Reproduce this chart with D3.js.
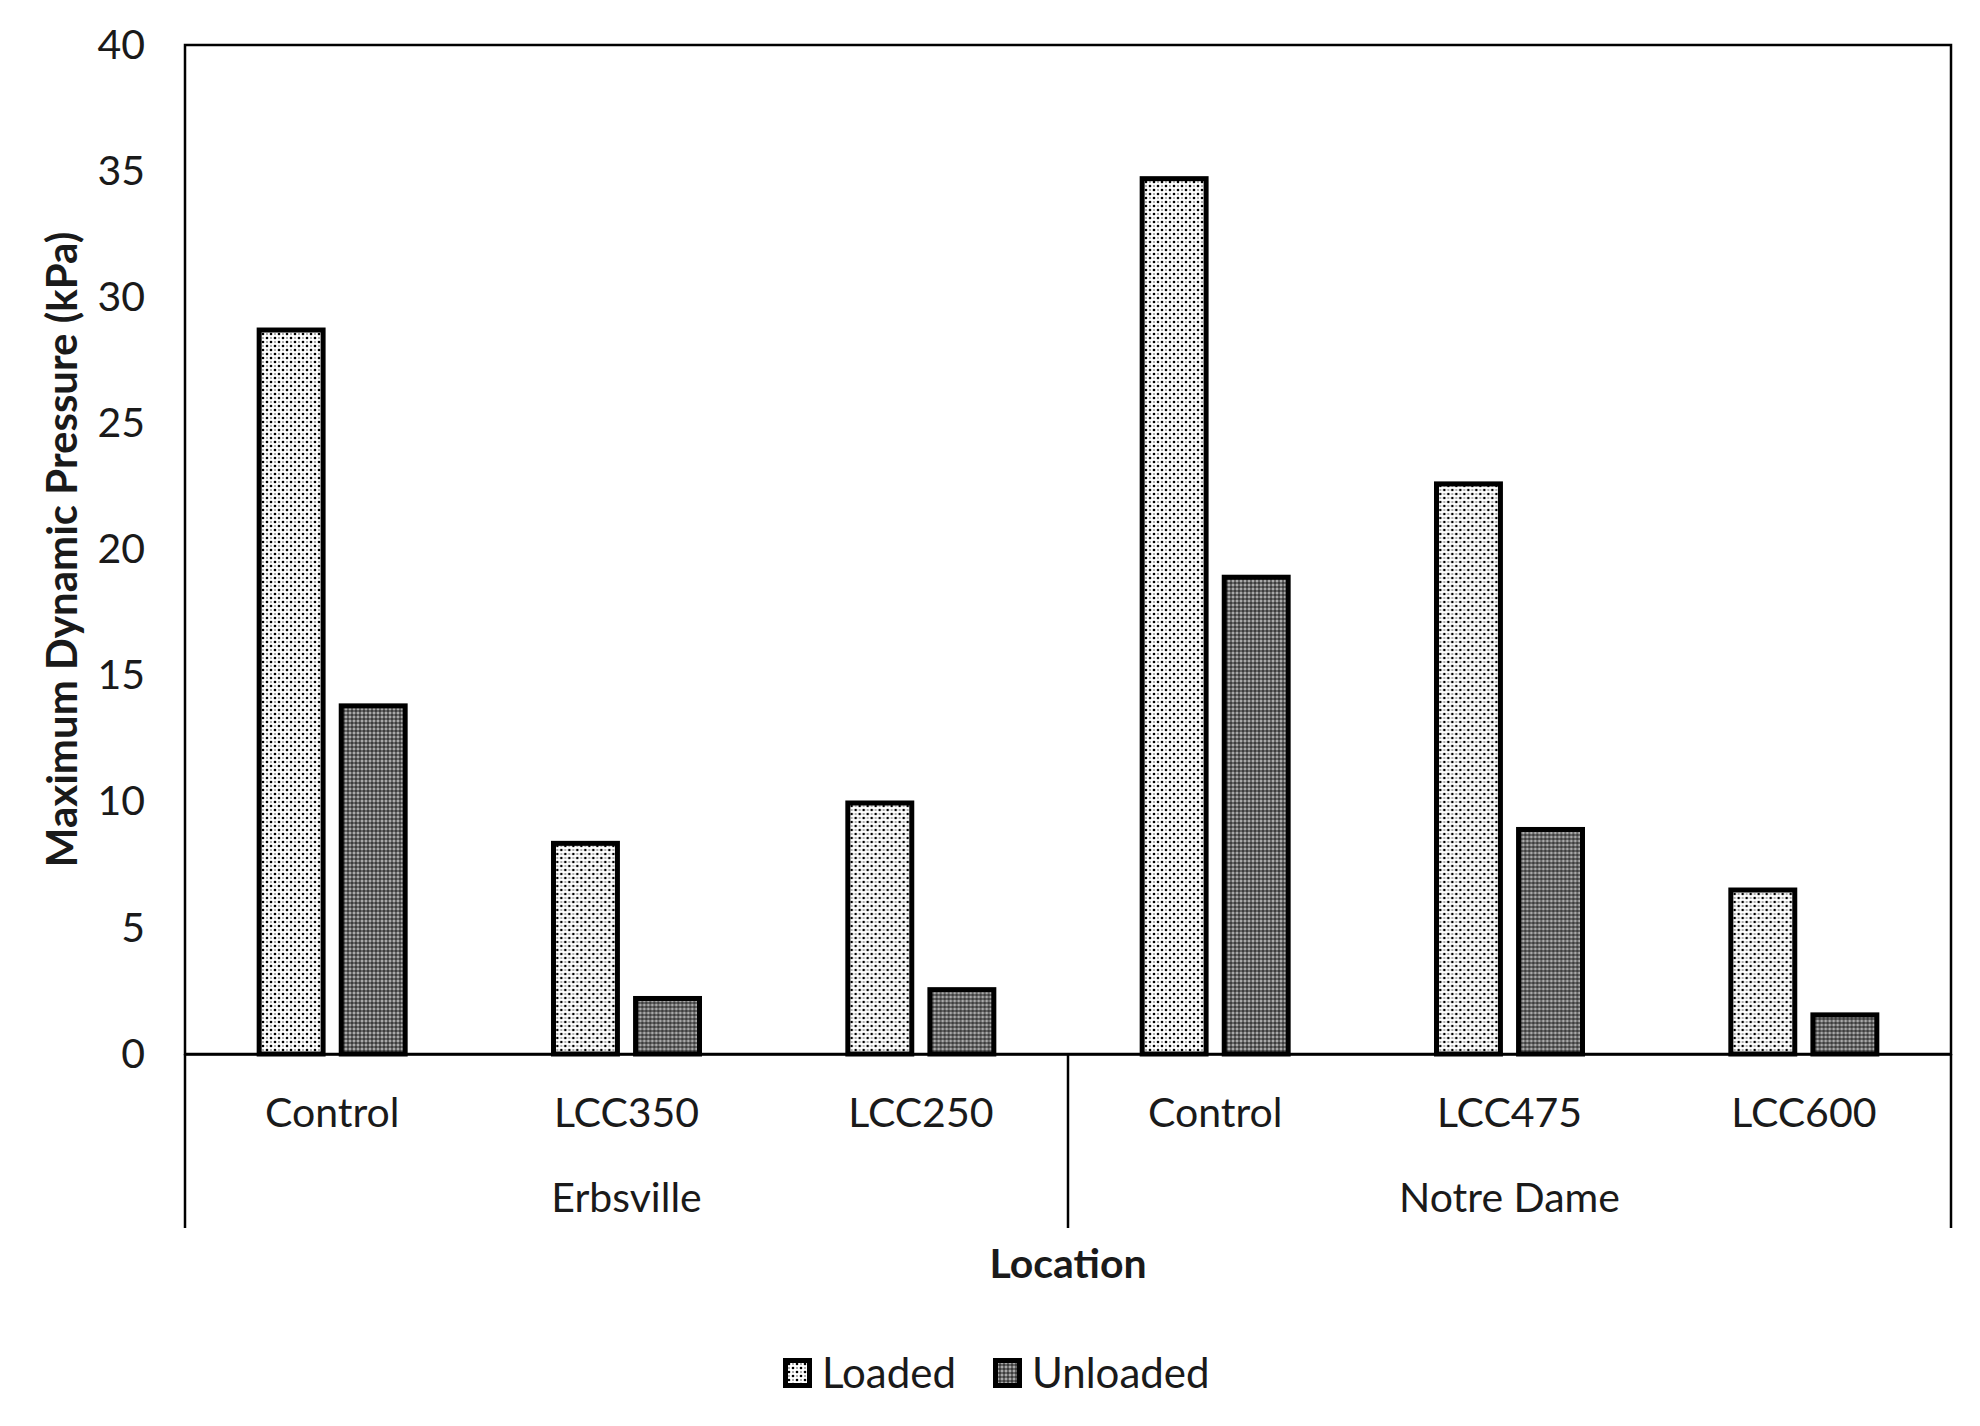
<!DOCTYPE html>
<html>
<head>
<meta charset="utf-8">
<script src="https://cdn.jsdelivr.net/npm/d3@7"></script>
<style>
  body { margin: 0; background: #fff; }
  text { font-family: Lato, "Open Sans", sans-serif; fill: #1a1a1a; }
</style>
</head>
<body>
<script>
// chart data
var categories = ["Control", "LCC350", "LCC250", "Control", "LCC475", "LCC600"];
var groupOf = ["Erbsville", "Erbsville", "Erbsville", "Notre Dame", "Notre Dame", "Notre Dame"];
var seriesNames = ["Loaded", "Unloaded"];
var loaded = [28.8, 8.45, 10.05, 34.8, 22.7, 6.6];
var unloaded = [13.9, 2.3, 2.65, 19.0, 9.0, 1.65];
var yTicks = [0, 5, 10, 15, 20, 25, 30, 35, 40];

var W = 1980, H = 1426;
var plotL = 185, plotR = 1951, plotT = 45, zeroY = 1054;
var fs = "41px";

var svg = d3.select("body").append("svg")
    .attr("width", W).attr("height", H);

// patterns for the two series
var defs = svg.append("defs");
var pLoad = defs.append("pattern").attr("id", "pLoaded")
    .attr("patternUnits", "userSpaceOnUse").attr("width", 8).attr("height", 8);
pLoad.append("rect").attr("width", 8).attr("height", 8).attr("fill", "#fff");
pLoad.append("circle").attr("cx", 2).attr("cy", 2).attr("r", 1.3).attr("fill", "#000");
pLoad.append("circle").attr("cx", 6).attr("cy", 6).attr("r", 1.3).attr("fill", "#000");
pLoad.append("circle").attr("cx", 6).attr("cy", 2).attr("r", 0.9).attr("fill", "#888");
pLoad.append("circle").attr("cx", 2).attr("cy", 6).attr("r", 0.9).attr("fill", "#888");

var pUn = defs.append("pattern").attr("id", "pUnloaded")
    .attr("patternUnits", "userSpaceOnUse").attr("width", 4).attr("height", 4);
pUn.append("rect").attr("width", 4).attr("height", 4).attr("fill", "#666");
pUn.append("rect").attr("x", 0.3).attr("y", 0.3).attr("width", 1.4).attr("height", 1.4).attr("fill", "#eee");
pUn.append("rect").attr("x", 2.3).attr("y", 2.3).attr("width", 1.4).attr("height", 1.4).attr("fill", "#111");

var fills = { Loaded: "url(#pLoaded)", Unloaded: "url(#pUnloaded)" };

//scales
var idx = categories.map(function (c, i) { return i; });
var x0 = d3.scaleBand().domain(idx).range([plotL, plotR]);
var pairW = 151;
var x1 = d3.scaleBand().domain(seriesNames)
    .range([(x0.bandwidth() - pairW) / 2, (x0.bandwidth() + pairW) / 2])
    .paddingInner(0.16);
var y = d3.scaleLinear().domain([0, 40]).range([zeroY, plotT]);

// plot frame
svg.append("rect")
    .attr("x", plotL).attr("y", plotT)
    .attr("width", plotR - plotL).attr("height", zeroY - plotT)
    .attr("fill", "none").attr("stroke", "#000").attr("stroke-width", 2.5);

// y axis labels
var yAxis = svg.append("g")
    .attr("transform", "translate(" + plotL + ",0)")
    .call(d3.axisLeft(y).tickValues(yTicks).tickSize(0).tickPadding(40));
yAxis.select(".domain").remove();
yAxis.selectAll("text")
    .style("font-size", fs)
    .style("font-family", "Lato, sans-serif")
    .attr("fill", "#1a1a1a");

// bars
var rows = idx.map(function (i) {
    return { i: i, vals: [{ s: "Loaded", v: loaded[i] }, { s: "Unloaded", v: unloaded[i] }] };
});
var sw = 5;
var cat = svg.append("g").selectAll(".cat")
    .data(rows).enter().append("g")
    .attr("transform", function (d) { return "translate(" + x0(d.i) + ",0)"; });
cat.selectAll("rect")
    .data(function (d) { return d.vals; })
    .enter().append("rect")
    .attr("x", function (d) { return x1(d.s) + sw / 2; })
    .attr("y", function (d) { return y(d.v) + sw / 2; })
    .attr("width", x1.bandwidth() - sw)
    .attr("height", function (d) { return y(0) - y(d.v) - sw / 2; })
    .attr("fill", function (d) { return fills[d.s]; })
    .attr("stroke", "#000")
    .attr("stroke-width", sw);

// x axis (zero line + category labels)
var xAxis = svg.append("g")
    .attr("transform", "translate(0," + zeroY + ")")
    .call(d3.axisBottom(x0).tickSize(0).tickPadding(44)
        .tickFormat(function (i) { return categories[i]; }));
xAxis.select(".domain").attr("stroke", "#000").attr("stroke-width", 2.5);
xAxis.selectAll("text")
    .style("font-size", fs)
    .style("font-family", "Lato, sans-serif")
    .attr("fill", "#1a1a1a");

// group labels and separators
var groups = [];
groupOf.forEach(function (g, i) {
    var last = groups[groups.length - 1];
    if (!last || last.name !== g) groups.push({ name: g, first: i, last: i });
    else last.last = i;
});
var sepBottom = 1228;
var seps = [plotL].concat(groups.map(function (g) { return x0(g.last) + x0.bandwidth(); }));
svg.append("g").selectAll("line")
    .data(seps).enter().append("line")
    .attr("x1", function (d) { return d; }).attr("x2", function (d) { return d; })
    .attr("y1", zeroY).attr("y2", sepBottom)
    .attr("stroke", "#000").attr("stroke-width", 2.5);
svg.append("g").selectAll("text")
    .data(groups).enter().append("text")
    .attr("x", function (g) { return (x0(g.first) + x0(g.last) + x0.bandwidth()) / 2; })
    .attr("y", 1212)
    .attr("text-anchor", "middle")
    .style("font-size", fs)
    .text(function (g) { return g.name; });

// axis titles
svg.append("text")
    .attr("x", (plotL + plotR) / 2).attr("y", 1278)
    .attr("text-anchor", "middle")
    .style("font-size", fs).style("font-weight", "bold")
    .text("Location");
svg.append("text")
    .attr("transform", "translate(77," + ((plotT + zeroY) / 2) + ") rotate(-90)")
    .attr("text-anchor", "middle")
    .style("font-size", "42px").style("font-weight", "bold")
    .text("Maximum Dynamic Pressure (kPa)");

// legend
var legX = [783, 993];
var leg = svg.append("g").selectAll(".leg")
    .data(seriesNames).enter().append("g")
    .attr("transform", function (d, i) { return "translate(" + legX[i] + ",1358)"; });
leg.append("rect")
    .attr("x", 2.5).attr("y", 2.5).attr("width", 24).attr("height", 25)
    .attr("fill", function (d) { return fills[d]; })
    .attr("stroke", "#000").attr("stroke-width", 5);
leg.append("text")
    .attr("x", 39).attr("y", 30)
    .style("font-size", "42px")
    .text(function (d) { return d; });
</script>
</body>
</html>
